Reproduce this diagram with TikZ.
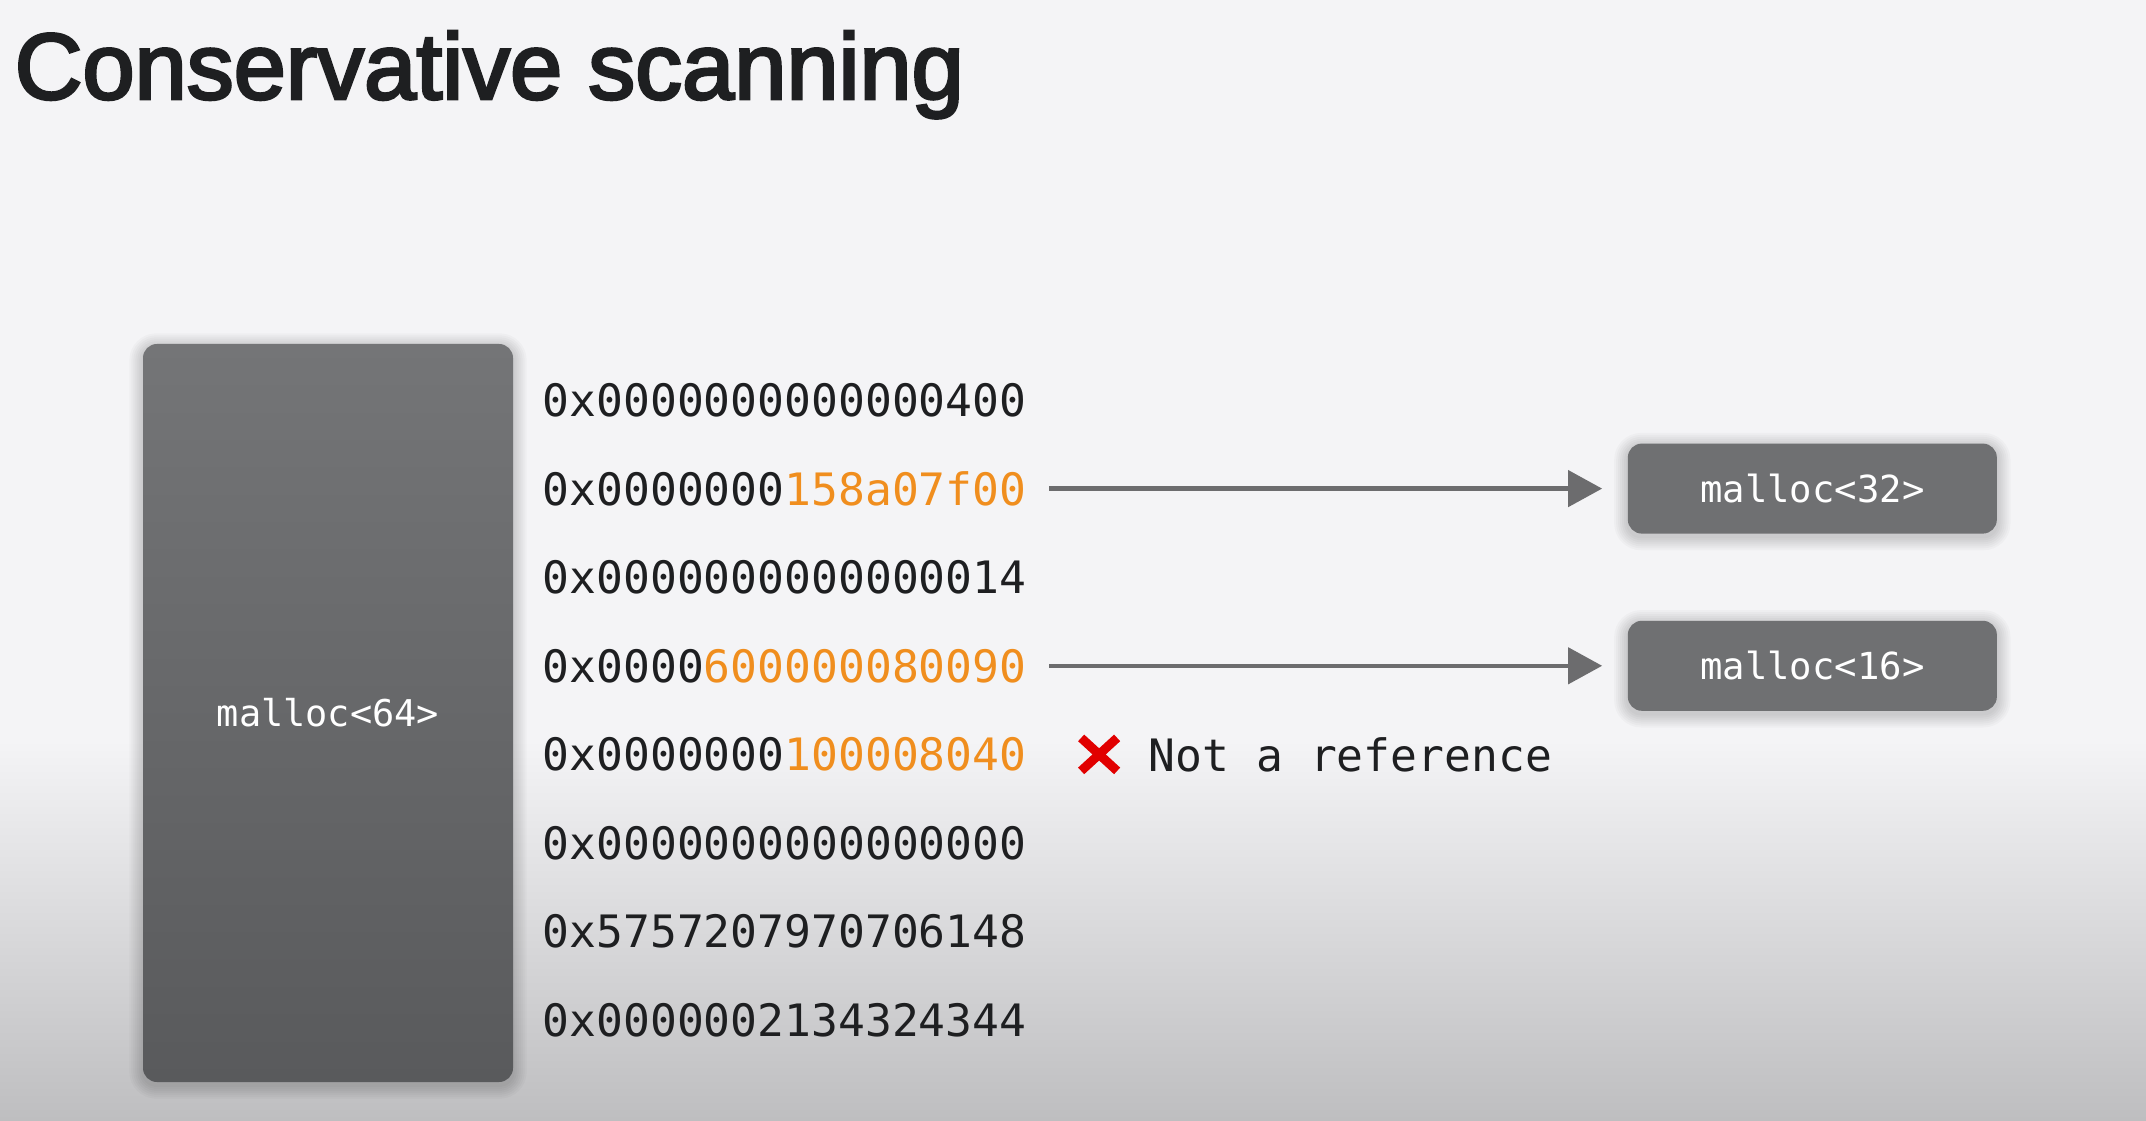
\documentclass[tikz,border=0pt]{standalone}
\usepackage{fontspec}
\setmainfont{Liberation Sans}
\setmonofont{DejaVu Sans Mono}
\newfontfamily\titlefont{Liberation Sans}[FakeBold=3]
\usetikzlibrary{positioning, arrows.meta, shapes.misc, calc}
\definecolor{hexorange}{RGB}{240,142,30}
\definecolor{inkdark}{RGB}{30,31,33}
\definecolor{slide}{RGB}{244,244,246}
\definecolor{slidelow}{RGB}{190,190,192}
\definecolor{blocktop}{RGB}{116,117,119}
\definecolor{blockbot}{RGB}{89,90,92}
\definecolor{blockgray}{RGB}{111,112,114}
\definecolor{arrowgray}{RGB}{108,108,110}
\definecolor{xred}{RGB}{225,0,0}
\newcommand{\ptrbits}[1]{\textcolor{hexorange}{#1}}
\pgfdeclarelayer{backdrop}
\pgfdeclarelayer{shadowlayer}
\pgfsetlayers{backdrop,shadowlayer,main}

\begin{document}
\begin{tikzpicture}[
    blockbig/.style={rectangle, rounded corners=0.14cm, top color=blocktop, bottom color=blockbot, minimum width=3.70cm, minimum height=7.38cm, text=white, font=\ttfamily\fontsize{10.5}{12}\selectfont},
    blocksmall/.style={rectangle, rounded corners=0.14cm, fill=blockgray, minimum width=3.69cm, minimum height=0.90cm, text=white, font=\ttfamily\fontsize{10.6}{12}\selectfont},
    word/.style={anchor=west, inner sep=0pt, text=inkdark, font=\ttfamily\fontsize{12.7}{15}\selectfont},
    pointer/.style={arrowgray, line width=0.045cm, -{Triangle[length=0.34cm, width=0.36cm]}, shorten <=0.22cm, shorten >=0.25cm},
    nomarkbox/.style={cross out, draw=xred, line width=0.09cm, minimum width=0.36cm, minimum height=0.33cm, inner sep=0pt, outer sep=0pt},
    softshade/.style={black, opacity=0.022}
    ]
    %Background
    \useasboundingbox (0,0) rectangle (21.46,11.2);
    \begin{pgfonlayer}{backdrop}
    \fill[slide] (0,0) rectangle (21.46,11.2);
    \shade[top color=slide, bottom color=slidelow] (0,0) rectangle (21.46,3.80);
    \end{pgfonlayer}

    %Nodes
    \node[anchor=base west, inner sep=0pt, text=inkdark, font=\titlefont\fontsize{26.7}{32}\selectfont] (title) at (0.14,10.21) {Conservative scanning};
    \node[blockbig] (block64) at (3.28,4.07) {malloc<64>};

    \node[word] (word0) at (5.42,7.20) {0x0000000000000400};
    \node[word] (word1) at (5.42,6.314) {0x0000000\ptrbits{158a07f00}};
    \node[word] (word2) at (5.42,5.428) {0x0000000000000014};
    \node[word] (word3) at (5.42,4.542) {0x0000\ptrbits{600000080090}};
    \node[word] (word4) at (5.42,3.656) {0x0000000\ptrbits{100008040}};
    \node[word] (word5) at (5.42,2.77) {0x0000000000000000};
    \node[word] (word6) at (5.42,1.884) {0x5757207970706148};
    \node[word] (word7) at (5.42,0.998) {0x0000002134324344};

    \node[blocksmall, right=6.00cm of word1] (block32) {malloc<32>};
    \node[blocksmall, right=6.00cm of word3] (block16) {malloc<16>};

    \node[nomarkbox, right=0.54cm of word4] (nomark) {};
    \node[word, right=0.31cm of nomark] (notref) {Not a reference};

    %Lines
    \draw[pointer] (word1.east) -- (block32.west);
    \draw[pointer] (word3.east) -- (block16.west);

    %Shadows
    \begin{pgfonlayer}{shadowlayer}
    \foreach \boxname in {block64, block32, block16}
      \foreach \spread in {0.01,0.03,...,0.15}
        \fill[softshade, rounded corners=0.14cm+\spread cm]
          ($(\boxname.south west)+(-\spread,-\spread-0.03)$) rectangle ($(\boxname.north east)+(\spread,\spread-0.03)$);
    \end{pgfonlayer}
\end{tikzpicture}
\end{document}
